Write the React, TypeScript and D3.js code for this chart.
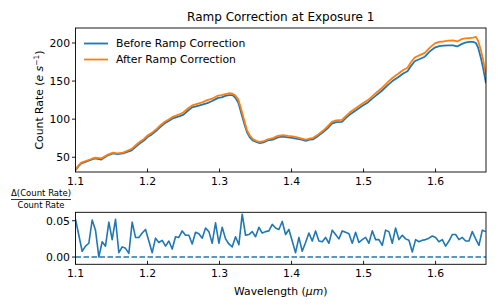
import React from "react";
import * as d3 from "d3";

const title = "Ramp Correction at Exposure 1";
const seriesNames = ["Before Ramp Correction", "After Ramp Correction"];
const xTicks = [1.1, 1.2, 1.3, 1.4, 1.5, 1.6];
const yTicksTop = [50, 100, 150, 200];
const yTicksBottom = [0.0, 0.05];

const wavelength = [1.100, 1.104, 1.108, 1.114, 1.120, 1.127, 1.136, 1.145, 1.152, 1.158, 1.166, 1.172, 1.178, 1.184, 1.189, 1.195, 1.200, 1.206, 1.213, 1.218, 1.224, 1.230, 1.235, 1.245, 1.250, 1.256, 1.262, 1.270, 1.276, 1.283, 1.289, 1.294, 1.298, 1.303, 1.308, 1.313, 1.318, 1.322, 1.326, 1.331, 1.335, 1.338, 1.342, 1.346, 1.351, 1.356, 1.361, 1.367, 1.374, 1.381, 1.388, 1.395, 1.401, 1.408, 1.414, 1.420, 1.425, 1.430, 1.437, 1.444, 1.450, 1.456, 1.462, 1.470, 1.476, 1.481, 1.487, 1.493, 1.499, 1.506, 1.512, 1.518, 1.525, 1.534, 1.540, 1.548, 1.555, 1.561, 1.566, 1.571, 1.578, 1.585, 1.592, 1.599, 1.605, 1.611, 1.618, 1.624, 1.630, 1.636, 1.641, 1.647, 1.652, 1.656, 1.659, 1.663, 1.666, 1.670];

const before = [33, 38, 42, 44, 46, 48.5, 47, 52.5, 55, 54, 55, 57, 59, 64, 68, 72, 76.5, 80, 85.5, 90, 94.5, 98, 101, 104, 106, 111, 115.5, 117.5, 119, 121, 123.5, 126, 128, 128.5, 130.5, 131.5, 131.5, 128, 122, 105, 92, 83, 76, 72, 70, 68.5, 69.5, 72, 73, 76, 77, 76, 75.5, 74, 73, 71.5, 73, 73.5, 78, 83, 88, 94, 96, 96.5, 102, 106, 110, 114, 118, 122, 127, 131.5, 137, 145, 150, 155, 160, 163, 170, 176, 179, 182, 189, 194, 196, 196.5, 197, 197, 195.5, 198.5, 200.5, 201.5, 201.5, 200, 194, 180, 167, 147];

const after = [34, 39, 43, 45, 47, 49.5, 48.5, 53.5, 56, 55, 56, 58.5, 61, 66, 70, 74, 78.5, 82, 87.5, 92, 96.5, 100, 103, 106.5, 109, 114, 118, 120.5, 122, 125, 126.5, 129, 131, 131.5, 133, 134, 133.5, 131, 126, 110, 96, 86, 78.5, 74, 71.5, 70, 71, 73.5, 75, 78, 79, 78, 77.5, 76, 74.5, 73, 74.5, 75.5, 80, 85, 90.5, 96.5, 98.5, 99, 104.5, 109, 113, 117, 121, 125, 130, 135, 140.5, 149, 154, 159.5, 164.5, 167.5, 175, 181, 184, 187, 194, 199.5, 201.5, 202, 203, 203.5, 202, 205, 206, 206.5, 207, 208, 203, 190, 178, 158];

const ratioStart = 1.1;
const ratioStep = 0.00463;
const ratio = [0.052, 0.030, 0.008, 0.015, 0.019, 0.051, 0.037, 0.000, 0.021, 0.015, 0.048, 0.024, 0.052, 0.006, 0.014, 0.012, 0.005, 0.048, 0.027, 0.027, 0.033, 0.038, 0.022, 0.006, 0.026, 0.020, 0.023, 0.015, 0.022, 0.011, 0.028, 0.027, 0.036, 0.030, 0.030, 0.018, 0.034, 0.032, 0.026, 0.040, 0.035, 0.019, 0.047, 0.019, 0.041, 0.025, 0.018, 0.014, 0.028, 0.017, 0.059, 0.030, 0.031, 0.035, 0.028, 0.041, 0.033, 0.035, 0.036, 0.045, 0.040, 0.038, 0.049, 0.031, 0.038, 0.022, 0.006, 0.027, 0.008, 0.020, 0.033, 0.022, 0.036, 0.022, 0.021, 0.027, 0.019, 0.037, 0.031, 0.025, 0.036, 0.034, 0.032, 0.019, 0.034, 0.020, 0.024, 0.027, 0.019, 0.036, 0.024, 0.024, 0.016, 0.037, 0.035, 0.019, 0.040, 0.024, 0.030, 0.025, 0.023, 0.007, 0.024, 0.021, 0.023, 0.024, 0.026, 0.029, 0.027, 0.021, 0.024, 0.015, 0.022, 0.031, 0.031, 0.024, 0.027, 0.022, 0.022, 0.035, 0.025, 0.016, 0.037, 0.035];

const BLUE = "#1f77b4";
const ORANGE = "#ff7f0e";
const FONT = "DejaVu Sans, sans-serif";

export default function App() {
  const W = 498, H = 308;
  const left = 75.5, right = 486;
  const top1 = 28, bot1 = 172;
  const top2 = 212.3, bot2 = 264.3;

  const x = d3.scaleLinear().domain([1.1, 1.67]).range([left, right]);
  const y1 = d3.scaleLinear().domain([30.6, 219.7]).range([bot1, top1]);
  const y2 = d3.scaleLinear().domain([-0.010, 0.0616]).range([bot2, top2]);

  const line1 = d3.line<number>().x((_, i) => x(wavelength[i])).y((d) => y1(d));
  const ratioLine = d3.line<number>().x((_, i) => x(ratioStart + i * ratioStep)).y((d) => y2(d));

  return (
    <svg width={W} height={H} style={{ position: "absolute", left: 0, top: 0, background: "#fff" }} fontFamily={FONT}>
      <defs>
        <clipPath id="c1"><rect x={left} y={top1} width={right - left} height={bot1 - top1} /></clipPath>
        <clipPath id="c2"><rect x={left} y={top2} width={right - left} height={bot2 - top2} /></clipPath>
      </defs>
      <rect width={W} height={H} fill="#fff" />
      <text x={(left + right) / 2} y={21} fontSize={12} textAnchor="middle" fill="#000">{title}</text>

      {/* top panel */}
      <g clipPath="url(#c1)">
        <path d={line1(before) || ""} fill="none" stroke={BLUE} strokeWidth={1.8} strokeLinejoin="round" />
        <path d={line1(after) || ""} fill="none" stroke={ORANGE} strokeWidth={1.8} strokeLinejoin="round" />
      </g>
      <rect x={left} y={top1} width={right - left} height={bot1 - top1} fill="none" stroke="#000" strokeWidth={0.9} />
      {yTicksTop.map((t) => (
        <g key={"yt" + t}>
          <line x1={left - 3.5} x2={left} y1={y1(t)} y2={y1(t)} stroke="#000" strokeWidth={0.9} />
          <text x={left - 5.5} y={y1(t)} dy="0.35em" fontSize={10.8} textAnchor="end">{t}</text>
        </g>
      ))}
      {xTicks.map((t) => (
        <g key={"xt" + t}>
          <line x1={x(t)} x2={x(t)} y1={bot1} y2={bot1 - 3.5} stroke="#000" strokeWidth={0.9} />
          <text x={x(t)} y={bot1 + 13} fontSize={10.8} textAnchor="middle">{t.toFixed(1)}</text>
        </g>
      ))}
      <text transform={`translate(43,${(top1 + bot1) / 2}) rotate(-90)`} fontSize={10.8} textAnchor="middle">
        Count Rate (<tspan fontStyle="italic">e</tspan> <tspan fontStyle="italic">s</tspan><tspan fontSize={7.5} dy={-4.5}>−1</tspan><tspan dy={4.5}>)</tspan>
      </text>

      {/* legend */}
      <line x1={84} x2={108} y1={43.5} y2={43.5} stroke={BLUE} strokeWidth={1.8} />
      <text x={116} y={43.5} dy="0.35em" fontSize={10.8}>{seriesNames[0]}</text>
      <line x1={84} x2={108} y1={59.5} y2={59.5} stroke={ORANGE} strokeWidth={1.8} />
      <text x={116} y={59.5} dy="0.35em" fontSize={10.8}>{seriesNames[1]}</text>

      {/* bottom panel */}
      <g clipPath="url(#c2)">
        <line x1={left} x2={right} y1={y2(0)} y2={y2(0)} stroke={BLUE} strokeWidth={1.6} strokeDasharray="5.5,2.5" />
        <path d={ratioLine(ratio) || ""} fill="none" stroke={BLUE} strokeWidth={1.6} strokeLinejoin="round" />
      </g>
      <rect x={left} y={top2} width={right - left} height={bot2 - top2} fill="none" stroke="#000" strokeWidth={0.9} />
      {yTicksBottom.map((t) => (
        <g key={"yb" + t}>
          <line x1={left - 3.5} x2={left} y1={y2(t)} y2={y2(t)} stroke="#000" strokeWidth={0.9} />
          <text x={left - 5.5} y={y2(t)} dy="0.35em" fontSize={10.8} textAnchor="end">{t.toFixed(2)}</text>
        </g>
      ))}
      {xTicks.map((t) => (
        <g key={"xb" + t}>
          <line x1={x(t)} x2={x(t)} y1={bot2} y2={bot2 - 3.5} stroke="#000" strokeWidth={0.9} />
          <text x={x(t)} y={bot2 + 13} fontSize={10.8} textAnchor="middle">{t.toFixed(1)}</text>
        </g>
      ))}
      <text x={(left + right) / 2} y={295} fontSize={10.8} textAnchor="middle">
        Wavelength (<tspan fontStyle="italic">μm</tspan>)
      </text>
      <text x={41} y={196} fontSize={8.5} textAnchor="middle" textLength={60} lengthAdjust="spacingAndGlyphs">Δ(Count Rate)</text>
      <line x1={11} x2={71} y1={199.5} y2={199.5} stroke="#000" strokeWidth={0.8} />
      <text x={41} y={208} fontSize={8.5} textAnchor="middle" textLength={47} lengthAdjust="spacingAndGlyphs">Count Rate</text>
    </svg>
  );
}
